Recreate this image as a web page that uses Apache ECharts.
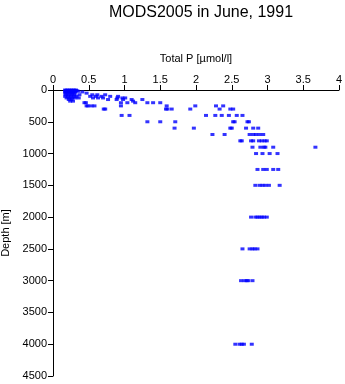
<!DOCTYPE html>
<html>
<head>
<meta charset="utf-8">
<script src="https://cdn.jsdelivr.net/npm/echarts@6/dist/echarts.min.js"></script>
<style>html,body{margin:0;padding:0;background:#fff}#c{width:345px;height:384px}</style>
</head>
<body>
<div id="c"></div>
<script>
var titleText = 'MODS2005 in June, 1991';
var xName = 'Total P [µmol/l]';
var yName = 'Depth [m]';
var xTicks = [0, 0.5, 1, 1.5, 2, 2.5, 3, 3.5, 4];
var yTicks = [0, 500, 1000, 1500, 2000, 2500, 3000, 3500, 4000, 4500];

// depth levels (m) and Total P values (µmol/l) measured at each level
var depthLevels = [0, 10, 20, 30, 50, 75, 100, 125, 150, 175, 200, 250, 300, 400, 500, 600, 700, 800, 900, 1000, 1250, 1500, 2000, 2500, 3000, 4000];
var pAtDepth = [
  [0.17, 0.20, 0.23, 0.26, 0.29, 0.32],
  [0.18, 0.21, 0.24, 0.27, 0.30, 0.33],
  [0.17, 0.20, 0.23, 0.26, 0.29, 0.35],
  [0.18, 0.22, 0.25, 0.28, 0.31, 0.41],
  [0.17, 0.20, 0.24, 0.27, 0.30, 0.47],
  [0.18, 0.22, 0.26, 0.30, 0.37, 0.55, 0.62, 0.73],
  [0.17, 0.21, 0.25, 0.29, 0.33, 0.52, 0.60, 0.68, 0.80, 0.91],
  [0.19, 0.23, 0.27, 0.31, 0.36, 0.56, 0.63, 0.70, 0.90, 0.97, 1.01],
  [0.22, 0.26, 0.77, 0.89, 0.98, 1.10, 1.25],
  [0.24, 0.28, 1.12],
  [0.44, 0.46, 0.95, 1.04, 1.15, 1.32, 1.40, 1.50],
  [0.47, 0.49, 0.54, 0.58, 0.95, 1.59, 1.99, 2.28, 2.38],
  [0.71, 0.73, 1.58, 1.60, 1.66, 1.92, 2.33, 2.48, 2.52],
  [0.96, 1.07, 2.14, 2.27, 2.36, 2.46, 2.57, 2.65],
  [1.32, 1.50, 1.71, 2.52, 2.54, 2.72, 2.74],
  [1.70, 1.97, 2.48, 2.50, 2.70, 2.80, 2.87],
  [2.23, 2.40, 2.75, 2.80, 2.84, 2.89, 2.94],
  [2.62, 2.64, 2.77, 2.80, 2.88, 2.92, 2.96, 2.99],
  [2.79, 2.90, 2.95, 2.97, 3.08, 3.67],
  [2.84, 2.93, 3.03, 3.14],
  [2.86, 2.94, 2.99, 3.08, 3.15],
  [2.83, 2.89, 2.93, 2.97, 3.02, 3.17],
  [2.77, 2.83, 2.86, 2.89, 2.92, 2.95, 2.99],
  [2.65, 2.75, 2.79, 2.82, 2.86],
  [2.63, 2.68, 2.71, 2.73, 2.79],
  [2.55, 2.61, 2.64, 2.67, 2.78]
];

var points = [];
depthLevels.forEach(function (d, i) {
  pAtDepth[i].forEach(function (p) { points.push([p, d]); });
});

var font = 'Liberation Sans, Arial, Helvetica, sans-serif';
var chart = echarts.init(document.getElementById('c'), null, {renderer: 'canvas'});
chart.setOption({
  animation: false,
  backgroundColor: '#fff',
  title: {
    text: titleText,
    left: 196,
    top: 0,
    textAlign: 'center',
    textStyle: {fontFamily: font, fontSize: 16, fontWeight: 'normal', color: '#000'}
  },
  grid: {left: 53, top: 90, right: 6, bottom: 8, containLabel: false, outerBoundsMode: 'none'},
  xAxis: {
    type: 'value', position: 'top', min: 0, max: 4, interval: 0.5,
    name: xName, nameLocation: 'middle', nameGap: 26,
    nameTextStyle: {fontFamily: font, fontSize: 11, color: '#000'},
    axisLine: {show: true, onZero: false, lineStyle: {color: '#000', width: 1}},
    axisTick: {show: true, length: 5, inside: false, lineStyle: {color: '#000'}},
    axisLabel: {fontFamily: font, fontSize: 11, color: '#000', margin: 5,
      formatter: function (v) { return xTicks.indexOf(v) >= 0 ? String(v) : ''; }},
    splitLine: {show: false}
  },
  yAxis: {
    type: 'value', inverse: true, min: 0, max: 4500, interval: 500,
    name: yName, nameLocation: 'middle', nameGap: 38,
    nameTextStyle: {fontFamily: font, fontSize: 11, color: '#000'},
    axisLine: {show: true, onZero: false, lineStyle: {color: '#000', width: 1}},
    axisTick: {show: true, length: 5, lineStyle: {color: '#000'}},
    axisLabel: {fontFamily: font, fontSize: 11, color: '#000', margin: 6,
      formatter: function (v) { return yTicks.indexOf(v) >= 0 ? String(v) : ''; }},
    splitLine: {show: false}
  },
  series: [{
    type: 'scatter',
    data: points,
    symbol: 'rect',
    symbolSize: [4, 3],
    itemStyle: {color: '#0000ff'}
  }]
});
</script>
</body>
</html>
